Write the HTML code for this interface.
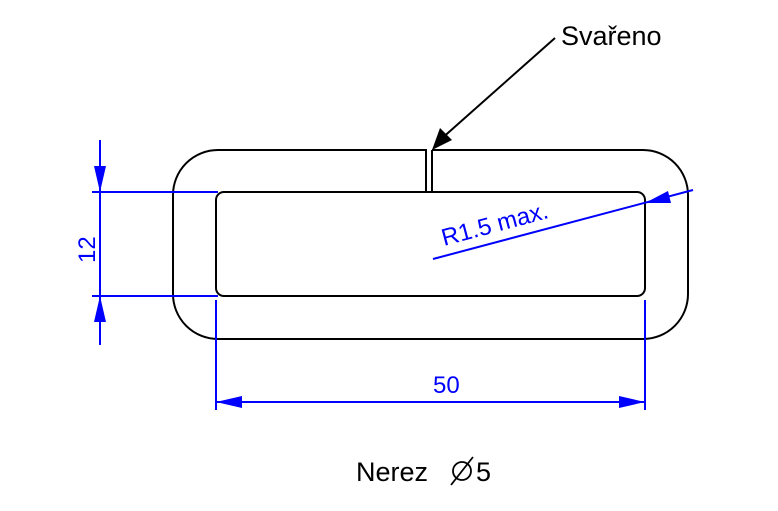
<!DOCTYPE html>
<html><head><meta charset="utf-8"><style>body{margin:0;background:#fff}svg{display:block}</style></head><body>
<svg width="778" height="511" viewBox="0 0 778 511" xmlns="http://www.w3.org/2000/svg">
<g fill="none" stroke="#000" stroke-width="2">
<path d="M432 150 H643 A45 45 0 0 1 688 195 V294 A45 45 0 0 1 643 339 H218 A45 45 0 0 1 173 294 V195 A45 45 0 0 1 218 150 H426 V192"/>
<path d="M432 150 V192"/>
<rect x="216" y="192" width="429" height="104" rx="8"/>
<path d="M555 38 L440 140"/>
</g>
<polygon points="432,150 440,128 452,140" fill="#000"/>
<g stroke="#00f" stroke-width="2" fill="none">
<path d="M92 192 H218 M92 296 H218 M100 140 V345"/>
<path d="M216 300 V410 M645 300 V410 M216 402 H645"/>
<path d="M433 259 L693 190"/>
</g>
<g fill="#00f">
<polygon points="100,192 94,166 106,166"/>
<polygon points="100,296 94,322 106,322"/>
<polygon points="216,402 242,396 242,408"/>
<polygon points="645,402 619,396 619,408"/>
<polygon points="645,203 668,191 671,203"/>
</g>
<g font-family="Liberation Sans, sans-serif" font-size="24" fill="#00f">
<text x="433" y="393">50</text>
<text transform="translate(95,263) rotate(-90)">12</text>
<text transform="translate(444,246) rotate(-15)">R1.5 max.</text>
</g>
<g font-family="Liberation Sans, sans-serif" font-size="27" fill="#000">
<text x="561" y="45">Svařeno</text>
<text x="356" y="481">Nerez</text>
<text x="476" y="481">5</text>
</g>
<g stroke="#000" stroke-width="1.8" fill="none">
<circle cx="462" cy="471" r="9"/>
<path d="M451 485 L473 457"/>
</g>
</svg>
</body></html>
